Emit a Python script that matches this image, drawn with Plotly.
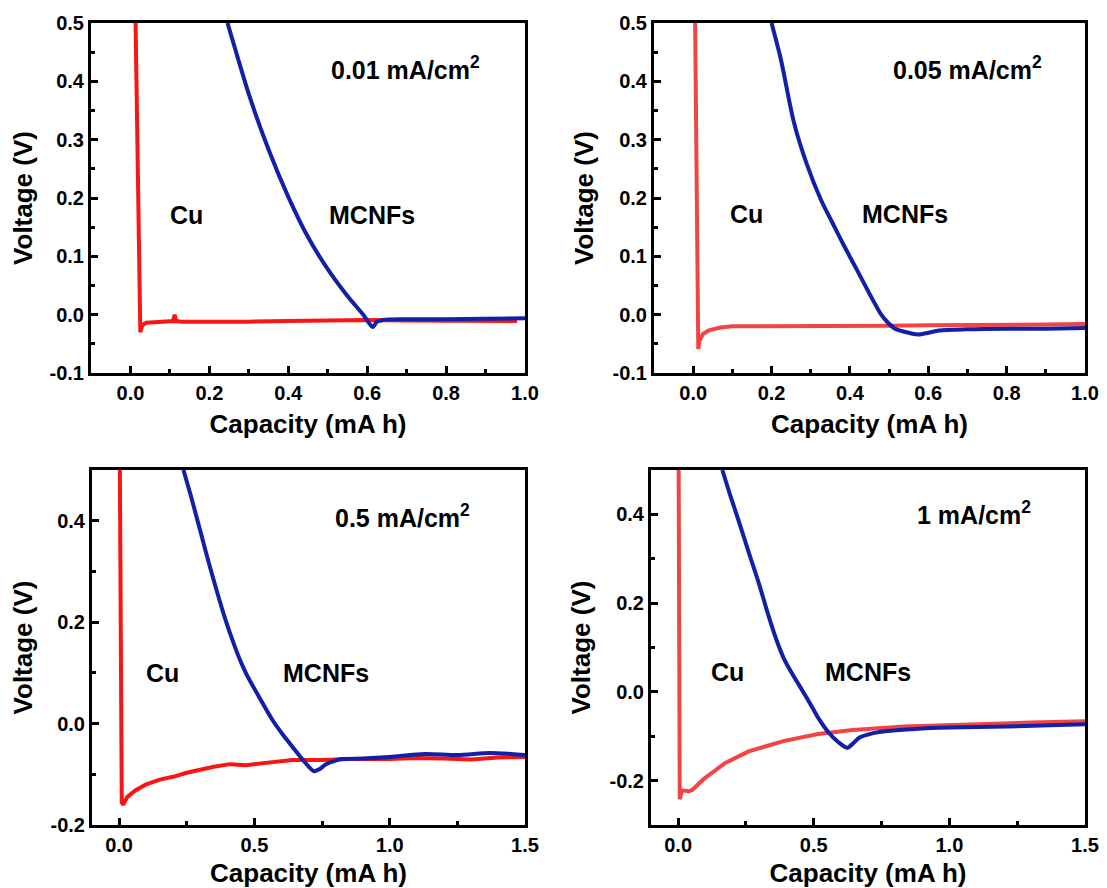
import plotly.graph_objects as go

# ---------------- data ----------------
# Panel 1: 0.01 mA/cm2
p1_cu_x = [0.013, 0.016, 0.018, 0.021, 0.023, 0.024, 0.025, 0.030, 0.040, 0.060, 0.100, 0.108, 0.112, 0.116, 0.130, 0.200, 0.230, 0.300, 0.400, 0.500, 0.600, 0.700, 0.800, 0.900, 0.980]
p1_cu_y = [0.500, 0.350, 0.200, 0.100, 0.030, 0.000, -0.030, -0.018, -0.014, -0.013, -0.012, -0.011, 0.000, -0.011, -0.012, -0.012, -0.013, -0.012, -0.011, -0.010, -0.009, -0.010, -0.010, -0.010, -0.011]
p1_mc_x = [0.246, 0.270, 0.300, 0.350, 0.400, 0.450, 0.500, 0.550, 0.590, 0.614, 0.625, 0.640, 0.700, 0.800, 0.900, 1.000]
p1_mc_y = [0.500, 0.445, 0.378, 0.283, 0.202, 0.133, 0.078, 0.032, 0.000, -0.021, -0.012, -0.009, -0.008, -0.008, -0.007, -0.006]

# Panel 2: 0.05 mA/cm2
p2_cu_x = [0.005, 0.008, 0.011, 0.013, 0.016, 0.025, 0.040, 0.070, 0.100, 0.200, 0.300, 0.400, 0.500, 0.600, 0.700, 0.800, 0.900, 1.000]
p2_cu_y = [0.500, 0.300, 0.050, -0.059, -0.045, -0.033, -0.027, -0.022, -0.020, -0.020, -0.020, -0.019, -0.019, -0.018, -0.018, -0.017, -0.017, -0.016]
p2_mc_x = [0.200, 0.224, 0.257, 0.290, 0.326, 0.355, 0.382, 0.417, 0.453, 0.480, 0.496, 0.515, 0.532, 0.555, 0.575, 0.600, 0.628, 0.700, 0.800, 0.900, 1.000]
p2_mc_y = [0.500, 0.437, 0.330, 0.258, 0.197, 0.158, 0.122, 0.078, 0.032, 0.000, -0.013, -0.024, -0.028, -0.032, -0.034, -0.031, -0.027, -0.025, -0.024, -0.024, -0.023]

# Panel 3: 0.5 mA/cm2
p3_cu_x = [0.003, 0.005, 0.008, 0.010, 0.015, 0.030, 0.060, 0.100, 0.154, 0.200, 0.250, 0.300, 0.350, 0.410, 0.470, 0.550, 0.640, 0.750, 0.850, 1.000, 1.100, 1.200, 1.300, 1.400, 1.500]
p3_cu_y = [0.500, 0.200, -0.050, -0.155, -0.160, -0.145, -0.132, -0.120, -0.110, -0.105, -0.097, -0.090, -0.085, -0.080, -0.082, -0.077, -0.072, -0.072, -0.070, -0.070, -0.068, -0.069, -0.071, -0.067, -0.066]
p3_mc_x = [0.238, 0.270, 0.300, 0.330, 0.362, 0.390, 0.420, 0.445, 0.472, 0.520, 0.568, 0.600, 0.641, 0.680, 0.720, 0.740, 0.765, 0.800, 0.824, 0.900, 1.000, 1.130, 1.250, 1.370, 1.450, 1.500]
p3_mc_y = [0.500, 0.440, 0.380, 0.320, 0.260, 0.210, 0.163, 0.128, 0.096, 0.050, 0.006, -0.018, -0.046, -0.072, -0.094, -0.090, -0.080, -0.073, -0.070, -0.069, -0.066, -0.060, -0.062, -0.058, -0.060, -0.062]

# Panel 4: 1 mA/cm2
p4_cu_x = [0.002, 0.003, 0.004, 0.006, 0.015, 0.026, 0.040, 0.052, 0.070, 0.095, 0.130, 0.172, 0.260, 0.388, 0.516, 0.643, 0.835, 1.090, 1.300, 1.500]
p4_cu_y = [0.500, 0.200, -0.100, -0.242, -0.222, -0.222, -0.224, -0.221, -0.210, -0.196, -0.180, -0.161, -0.134, -0.111, -0.095, -0.086, -0.078, -0.072, -0.069, -0.066]
p4_mc_x = [0.163, 0.190, 0.226, 0.260, 0.300, 0.330, 0.362, 0.390, 0.426, 0.460, 0.489, 0.520, 0.554, 0.590, 0.624, 0.645, 0.669, 0.720, 0.772, 0.860, 0.960, 1.217, 1.500]
p4_mc_y = [0.500, 0.447, 0.380, 0.315, 0.240, 0.178, 0.118, 0.075, 0.035, 0.001, -0.029, -0.062, -0.091, -0.113, -0.126, -0.116, -0.103, -0.093, -0.088, -0.084, -0.081, -0.078, -0.073]

current_labels = ["0.01 mA/cm<sup>2</sup>", "0.05 mA/cm<sup>2</sup>", "0.5 mA/cm<sup>2</sup>", "1 mA/cm<sup>2</sup>"]
series_names = ["Cu", "MCNFs"]

top_xticks = [0.0, 0.2, 0.4, 0.6, 0.8, 1.0]
top_xtext = ["0.0", "0.2", "0.4", "0.6", "0.8", "1.0"]
top_yticks = [-0.1, 0.0, 0.1, 0.2, 0.3, 0.4, 0.5]
top_ytext = ["-0.1", "0.0", "0.1", "0.2", "0.3", "0.4", "0.5"]
bot_xticks = [0.0, 0.5, 1.0, 1.5]
bot_xtext = ["0.0", "0.5", "1.0", "1.5"]
bot_yticks = [-0.2, 0.0, 0.2, 0.4]
bot_ytext = ["-0.2", "0.0", "0.2", "0.4"]

# ---------------- figure ----------------
OFF = 8                      # page body margin
W, H = 1107 - 2 * OFF, 888 - OFF
RED1 = "#FA1414"
RED2 = "#F24444"
BLUE = "#1220A8"
FONT = "Liberation Sans, Arial, sans-serif"


def xdom(a, b):
    return [(a - OFF) / W, (b - OFF) / W]


def ydom(top, bottom):
    return [1 - (bottom - OFF) / H, 1 - (top - OFF) / H]


panels = [
    dict(cu=(p1_cu_x, p1_cu_y), mc=(p1_mc_x, p1_mc_y), red=RED1,
         xd=xdom(91, 525), yd=ydom(23, 373),
         xr=[-0.1, 1.0], yr=[-0.1, 0.5],
         xt=(top_xticks, top_xtext), yt=(top_yticks, top_ytext), xm=0.1, ym=0.05,
         lab=(0.503, 0.423), cu_lab=(0.094, 0.171), mc_lab=(0.497, 0.171)),
    dict(cu=(p2_cu_x, p2_cu_y), mc=(p2_mc_x, p2_mc_y), red=RED2,
         xd=xdom(654, 1085), yd=ydom(23, 373),
         xr=[-0.1, 1.0], yr=[-0.1, 0.5],
         xt=(top_xticks, top_xtext), yt=(top_yticks, top_ytext), xm=0.1, ym=0.05,
         lab=(0.504, 0.423), cu_lab=(0.089, 0.172), mc_lab=(0.427, 0.172)),
    dict(cu=(p3_cu_x, p3_cu_y), mc=(p3_mc_x, p3_mc_y), red=RED1,
         xd=xdom(92, 525), yd=ydom(470, 825),
         xr=[-0.1, 1.5], yr=[-0.2, 0.5],
         xt=(bot_xticks, bot_xtext), yt=(bot_yticks, bot_ytext), xm=0.25, ym=0.1,
         lab=(0.79, 0.41), cu_lab=(0.092, 0.10), mc_lab=(0.60, 0.10)),
    dict(cu=(p4_cu_x, p4_cu_y), mc=(p4_mc_x, p4_mc_y), red=RED2,
         xd=xdom(651, 1085), yd=ydom(470, 825),
         xr=[-0.1, 1.5], yr=[-0.3, 0.5],
         xt=(bot_xticks, bot_xtext), yt=(bot_yticks, bot_ytext), xm=0.25, ym=0.1,
         lab=(0.874, 0.403), cu_lab=(0.115, 0.045), mc_lab=(0.533, 0.045)),
]

fig = go.Figure()
annotations = []
tickfont = dict(family=FONT, size=20, color="black")
titlefont = dict(family=FONT, size=26, color="black")

for i, p in enumerate(panels):
    n = "" if i == 0 else str(i + 1)
    xa, ya = "x" + n, "y" + n
    fig.add_trace(go.Scatter(x=p["cu"][0], y=p["cu"][1], mode="lines", name=series_names[0],
                             line=dict(color=p["red"], width=4), xaxis=xa, yaxis=ya,
                             showlegend=False, cliponaxis=True))
    fig.add_trace(go.Scatter(x=p["mc"][0], y=p["mc"][1], mode="lines", name=series_names[1],
                             line=dict(color=BLUE, width=4, shape="spline", smoothing=0.8),
                             xaxis=xa, yaxis=ya, showlegend=False, cliponaxis=True))
    common = dict(showline=True, linecolor="black", linewidth=3, mirror=True,
                  ticks="inside", ticklen=7, tickwidth=3, tickcolor="black",
                  showgrid=False, zeroline=False, tickfont=tickfont, automargin=False)
    fig.layout["xaxis" + n] = dict(
        domain=p["xd"], range=p["xr"], anchor=ya,
        tickmode="array", tickvals=p["xt"][0], ticktext=["<b>%s</b>" % t for t in p["xt"][1]],
        minor=dict(ticks="inside", ticklen=4, tickwidth=2.5, tickcolor="black", dtick=p["xm"], tick0=0),
        title=dict(text="<b>Capacity (mA h)</b>", font=titlefont, standoff=12),
        **common)
    fig.layout["yaxis" + n] = dict(
        domain=p["yd"], range=p["yr"], anchor=xa,
        tickmode="array", tickvals=p["yt"][0], ticktext=["<b>%s</b>" % t for t in p["yt"][1]],
        minor=dict(ticks="inside", ticklen=4, tickwidth=2.5, tickcolor="black", dtick=p["ym"], tick0=0),
        title=dict(text="<b>Voltage (V)</b>", font=titlefont, standoff=12),
        **common)
    for txt, pos in ((current_labels[i], p["lab"]), (series_names[0], p["cu_lab"]), (series_names[1], p["mc_lab"])):
        annotations.append(dict(text="<b>%s</b>" % txt, x=pos[0], y=pos[1], xref=xa, yref=ya,
                                xanchor="left", yanchor="middle", showarrow=False,
                                font=dict(family=FONT, size=25, color="black")))

fig.update_layout(width=W, height=H, margin=dict(l=0, r=0, t=0, b=0),
                  paper_bgcolor="white", plot_bgcolor="white",
                  font=dict(family=FONT),
                  annotations=annotations)

fig.write_html("out.html")
